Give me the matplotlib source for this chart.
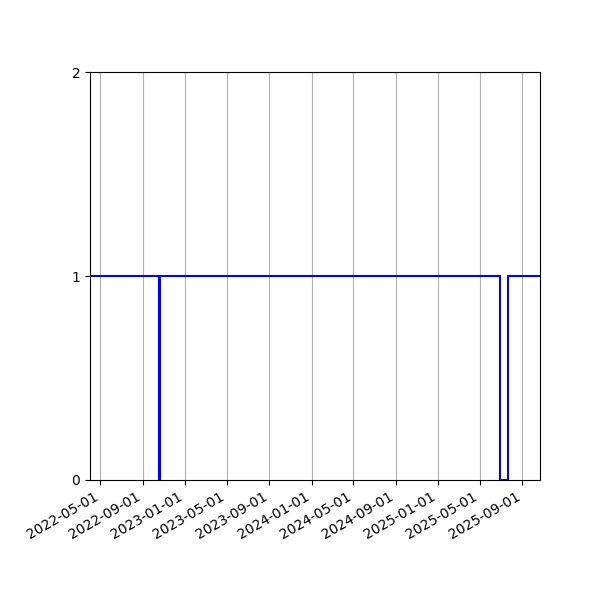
import matplotlib
matplotlib.use("Agg")
import matplotlib.pyplot as plt
import matplotlib.dates as mdates
import pandas as pd

dates = ["2022-04-01", "2022-10-18", "2022-10-19", "2025-06-27", "2025-07-22", "2025-10-22"]
values = [1, 0, 1, 0, 1, 1]
tick_dates = ["2022-05-01", "2022-09-01", "2023-01-01", "2023-05-01", "2023-09-01",
              "2024-01-01", "2024-05-01", "2024-09-01", "2025-01-01", "2025-05-01", "2025-09-01"]
y_ticks = [0, 1, 2]

x = pd.to_datetime(dates)
fig, ax = plt.subplots(figsize=(6, 6), dpi=100)
ax.step(x, values, where="post", color="blue", linewidth=1.5)
ax.set_xlim(x[0], x[-1])
ax.set_ylim(0, 2)
ax.set_yticks(y_ticks)
ax.set_xticks(pd.to_datetime(tick_dates))
ax.xaxis.set_major_formatter(mdates.DateFormatter("%Y-%m-%d"))
ax.grid(axis="x", color="#b0b0b0", linewidth=0.8)
ax.set_axisbelow(True)
fig.subplots_adjust(left=0.15, right=0.9, top=0.88, bottom=0.2)
for lbl in ax.get_xticklabels():
    lbl.set_rotation(30)
    lbl.set_ha("right")
fig.savefig("out.png")
